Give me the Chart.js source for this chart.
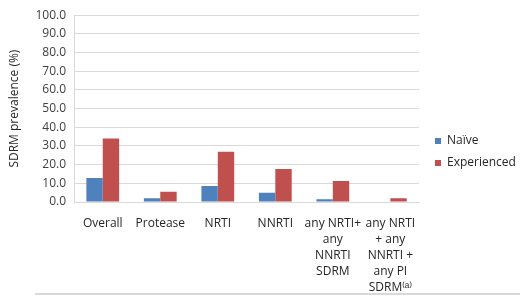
<!DOCTYPE html>
<html>
<head>
<meta charset="utf-8">
<script src="https://cdn.jsdelivr.net/npm/chart.js@4"></script>
<style>
  html, body { margin: 0; padding: 0; background: #fff; }
  #wrap { width: 520px; height: 296px; position: relative; }
</style>
</head>
<body>
<div id="wrap"><canvas id="chart" width="520" height="296"></canvas></div>
<script>
// 类别（多行标签）
const categories = [
  ['Overall'],
  ['Protease'],
  ['NRTI'],
  ['NNRTI'],
  ['any NRTI+', 'any', 'NNRTI', 'SDRM'],
  ['any NRTI', '+ any', 'NNRTI +', 'any PI', 'SDRM⁽ᵃ⁾']
];
// 两个系列的数值 (%)
const naive = [12.9, 2.0, 8.6, 5.0, 1.5, 0.3];
const experienced = [34.0, 5.5, 26.9, 17.6, 11.2, 2.0];
// Y 轴刻度
const yTicks = [0, 10, 20, 30, 40, 50, 60, 70, 80, 90, 100];

const FONT = "'Open Sans', 'Liberation Sans', sans-serif";

// 图例位置微调 + 底部灰线
const tweaks = {
  id: 'tweaks',
  afterLayout(chart) {
    const lg = chart.legend;
    const dx = 425 - lg.left;
    lg.left += dx; lg.right += dx;
    const dy = 125 - lg.top;
    lg.top += dy; lg.bottom += dy;
  },
  afterDraw(chart) {
    const c = chart.ctx;
    c.save();
    c.strokeStyle = '#D9D9D9';
    c.lineWidth = 2;
    c.beginPath();
    c.moveTo(35, 294);
    c.lineTo(520, 294);
    c.stroke();
    c.restore();
  }
};

const ctx = document.getElementById('chart').getContext('2d');
new Chart(ctx, {
  type: 'bar',
  data: {
    labels: categories,
    datasets: [
      { label: 'Naïve', data: naive, backgroundColor: '#4F81BD' },
      { label: 'Experienced', data: experienced, backgroundColor: '#C0504D' }
    ]
  },
  options: {
    responsive: false,
    animation: false,
    layout: { padding: { top: 15, left: 0, right: 0, bottom: 0 } },
    datasets: { bar: { categoryPercentage: 0.57, barPercentage: 1.0 } },
    plugins: {
      tooltip: { enabled: false },
      legend: {
        position: 'right',
        align: 'start',
        maxWidth: 102,
        labels: {
          boxWidth: 6,
          boxHeight: 6,
          padding: 10,
          color: '#262626',
          font: { family: FONT, size: 12 }
        }
      }
    },
    scales: {
      x: {
        grid: { display: false },
        border: { display: true, color: '#D9D9D9' },
        ticks: {
          color: '#262626',
          font: { family: FONT, size: 12, lineHeight: 1.35 },
          padding: 5,
          maxRotation: 0,
          autoSkip: false
        },
        afterFit(scale) { scale.height = 94; }
      },
      y: {
        min: 0,
        max: 100,
        afterBuildTicks(scale) { scale.ticks = yTicks.map(v => ({ value: v })); },
        grid: { color: '#D9D9D9', drawTicks: false },
        border: { display: true, color: '#D9D9D9' },
        ticks: {
          color: '#404040',
          font: { family: FONT, size: 12 },
          padding: 8,
          callback: v => v.toFixed(1)
        },
        title: {
          display: true,
          text: 'SDRM prevalence (%)',
          color: '#262626',
          font: { family: FONT, size: 12 },
          padding: { top: 7, bottom: 4 }
        },
        afterFit(scale) { scale.width = 74; }
      }
    }
  },
  plugins: [tweaks]
});
</script>
</body>
</html>
